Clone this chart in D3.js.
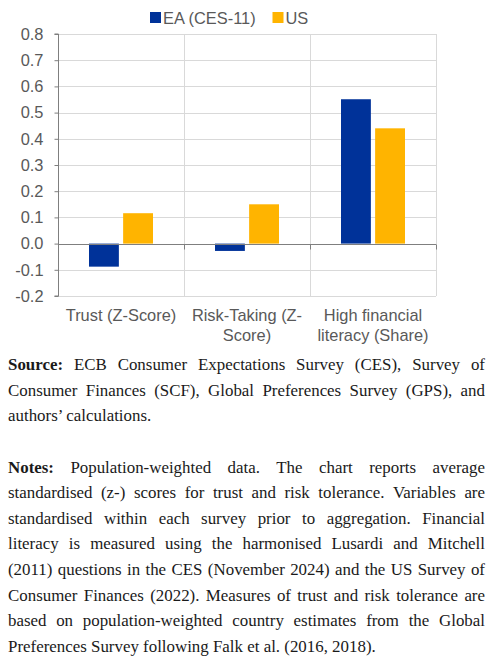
<!DOCTYPE html>
<html><head><meta charset="utf-8">
<script src="https://cdn.jsdelivr.net/npm/d3@7"></script>
<style>html,body{margin:0;padding:0;background:#fff;}svg{display:block;}</style>
</head><body>
<svg id="c" width="491" height="659"></svg>
<script>
const categories = [["Trust (Z-Score)"], ["Risk-Taking (Z-", "Score)"], ["High financial", "literacy (Share)"]];
const seriesNames = ["EA (CES-11)", "US"];
const eaValues = [-0.088, -0.028, 0.551];
const usValues = [0.116, 0.150, 0.440];
const yTicks = [-0.2, -0.1, 0, 0.1, 0.2, 0.3, 0.4, 0.5, 0.6, 0.7, 0.8];
const colors = ["#003299", "#FFB400"];
const sourceLines = [
  ["Source:", "ECB Consumer Expectations Survey (CES), Survey of"],
  ["", "Consumer Finances (SCF), Global Preferences Survey (GPS), and"],
  ["", "authors’ calculations."]
];
const notesLines = [
  ["Notes:", "Population-weighted data. The chart reports average"],
  ["", "standardised (z-) scores for trust and risk tolerance. Variables are"],
  ["", "standardised within each survey prior to aggregation. Financial"],
  ["", "literacy is measured using the harmonised Lusardi and Mitchell"],
  ["", "(2011) questions in the CES (November 2024) and the US Survey of"],
  ["", "Consumer Finances (2022). Measures of trust and risk tolerance are"],
  ["", "based on population-weighted country estimates from the Global"],
  ["", "Preferences Survey following Falk et al. (2016, 2018)."]
];

(function () {
const svg = d3.select("#c");
const pL = 58, pR = 436, pT = 34, pB = 296;
const y = d3.scaleLinear().domain([-0.2, 0.8]).range([pB, pT]);
const x0 = d3.scaleBand().domain(d3.range(categories.length)).range([pL, pR]);
const x1 = d3.scaleBand().domain(d3.range(seriesNames.length)).range([0, 64]).paddingInner(8/64);
const sans = "Liberation Sans, Arial, sans-serif";
const sfs = "16.4px";

// horizontal grid
svg.append("g").selectAll("line").data(yTicks.filter(t => t !== 0)).join("line")
  .attr("x1", pL).attr("x2", pR).attr("y1", d => Math.round(y(d)) + 0.5).attr("y2", d => Math.round(y(d)) + 0.5)
  .attr("stroke", "#d9d9d9").attr("stroke-width", 1);
// vertical grid at category boundaries + right border
const bounds = d3.range(1, categories.length + 1).map(i => pL + x0.step() * i);
svg.append("g").selectAll("line").data(bounds).join("line")
  .attr("x1", d => Math.round(d) + 0.5).attr("x2", d => Math.round(d) + 0.5).attr("y1", pT).attr("y2", pB)
  .attr("stroke", "#d9d9d9").attr("stroke-width", 1);

// bars
const rows = categories.map((c, i) => [eaValues[i], usValues[i]]);
const g = svg.append("g");
rows.forEach((vals, i) => {
  const cx = x0(i) + x0.bandwidth() / 2 - 32;
  g.selectAll(null).data(vals).join("rect")
    .attr("x", (d, j) => cx + x1(j)).attr("width", x1.bandwidth())
    .attr("y", d => y(Math.max(0, d))).attr("height", d => Math.abs(y(d) - y(0)))
    .attr("fill", (d, j) => colors[j]);
});

// y axis
const yAxis = d3.axisLeft(y).tickValues(yTicks).tickFormat(d => d3.format(".1f")(d).replace("−", "-")).tickSize(4).tickPadding(11);
const ya = svg.append("g").attr("transform", `translate(${pL + 0.5},0)`).call(yAxis);
ya.select(".domain").attr("stroke", "#7f7f7f").attr("d", `M-4,${pT}H0V${pB}H-4`);
ya.selectAll(".tick line").attr("stroke", "#7f7f7f");
ya.selectAll(".tick text").attr("fill", "#595959").style("font-family", sans).style("font-size", sfs);

// zero axis
const z = Math.round(y(0)) + 0.5;
const xa = svg.append("g").attr("transform", `translate(0,${z})`);
xa.append("line").attr("x1", pL).attr("x2", pR).attr("stroke", "#7f7f7f");
xa.selectAll(null).data(bounds).join("line")
  .attr("x1", d => Math.round(d) + 0.5).attr("x2", d => Math.round(d) + 0.5).attr("y1", 0).attr("y2", 5)
  .attr("stroke", "#7f7f7f");

// category labels
categories.forEach((lines, i) => {
  const t = svg.append("text").attr("text-anchor", "middle")
    .attr("fill", "#595959").style("font-family", sans).style("font-size", sfs);
  lines.forEach((ln, k) => t.append("tspan").attr("x", x0(i) + x0.bandwidth() / 2).attr("y", 321 + k * 19.5).text(ln));
});

// legend
const leg = svg.append("g");
const legX = [150, 272.5];
seriesNames.forEach((n, j) => {
  leg.append("rect").attr("x", legX[j]).attr("y", 12).attr("width", 11).attr("height", 11).attr("fill", colors[j]);
  leg.append("text").attr("x", legX[j] + 13).attr("y", 23.5).attr("fill", "#595959")
    .style("font-family", sans).style("font-size", sfs).text(n);
});

// footnote text, justified
const serif = "Liberation Serif, 'Times New Roman', serif";
const probe = svg.append("text").style("font-family", serif).style("font-size", "10px")
  .text(notesLines[notesLines.length - 1][1]);
const fs = 10 * 368 / probe.node().getComputedTextLength();
probe.remove();
const textLeft = 8, textRight = 485;
function drawPara(lines, y0) {
  lines.forEach((ln, k) => {
    const yy = y0 + k * 25.6;
    const last = k === lines.length - 1;
    if (last) {
      svg.append("text").attr("x", textLeft).attr("y", yy).attr("fill", "#1a1a1a")
        .style("font-family", serif).style("font-size", fs + "px").text(ln[1]);
      return;
    }
    const words = [];
    if (ln[0]) words.push({t: ln[0], b: true});
    ln[1].split(" ").forEach(w => words.push({t: w, b: false}));
    const nodes = words.map(w => svg.append("text").attr("y", yy).attr("fill", "#1a1a1a")
      .style("font-family", serif).style("font-size", fs + "px").style("font-weight", w.b ? "bold" : "normal").text(w.t));
    const widths = nodes.map(n => n.node().getComputedTextLength());
    const total = d3.sum(widths);
    const gap = (textRight - textLeft - total) / (words.length - 1);
    let cx = textLeft;
    nodes.forEach((n, i) => { n.attr("x", cx); cx += widths[i] + gap; });
  });
}
drawPara(sourceLines, 370);
drawPara(notesLines, 472.5);
})();
</script>
</body></html>
